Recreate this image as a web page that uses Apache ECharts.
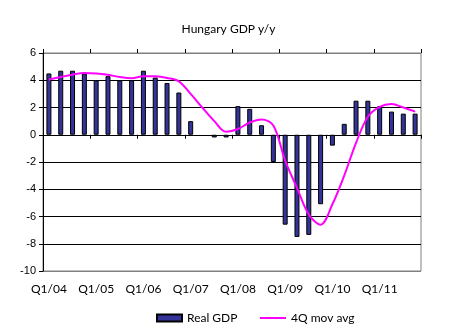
<!DOCTYPE html>
<html>
<head>
<meta charset="utf-8">
<script src="https://cdn.jsdelivr.net/npm/echarts@6/dist/echarts.min.js"></script>
<style>
  html, body { margin: 0; padding: 0; background: #ffffff; }
  #chart { width: 457px; height: 335px; }
</style>
</head>
<body>
<div id="chart"></div>
<script>
// Quarterly categories, 2004-2011
const quarters = [
  'Q1/04', 'Q2/04', 'Q3/04', 'Q4/04',
  'Q1/05', 'Q2/05', 'Q3/05', 'Q4/05',
  'Q1/06', 'Q2/06', 'Q3/06', 'Q4/06',
  'Q1/07', 'Q2/07', 'Q3/07', 'Q4/07',
  'Q1/08', 'Q2/08', 'Q3/08', 'Q4/08',
  'Q1/09', 'Q2/09', 'Q3/09', 'Q4/09',
  'Q1/10', 'Q2/10', 'Q3/10', 'Q4/10',
  'Q1/11', 'Q2/11', 'Q3/11', 'Q4/11'
];

// Real GDP, % y/y
const realGdp = [
  4.5, 4.7, 4.7, 4.5,
  4.0, 4.3, 4.0, 4.0,
  4.7, 4.2, 3.8, 3.1,
  1.0, 0.0, -0.2, -0.2,
  2.1, 1.9, 0.7, -2.0,
  -6.6, -7.5, -7.35, -5.1,
  -0.8, 0.8, 2.5, 2.5,
  2.1, 1.7, 1.55, 1.55
];

// Four-quarter moving average, % y/y
const movAvg4Q = [
  4.05, 4.24, 4.41, 4.53,
  4.5, 4.4, 4.24, 4.15,
  4.29, 4.29, 4.17, 3.92,
  3.0, 1.98, 1.0, 0.22,
  0.42, 0.9, 1.12, 0.68,
  -1.9, -3.9, -5.85, -6.6,
  -5.1, -3.0, -0.6, 1.32,
  2.05, 2.25, 2.0, 1.7
];

// Value axis range
const yMin = -10;
const yMax = 6;
const yStep = 2;

const chart = echarts.init(document.getElementById('chart'), null, { renderer: 'canvas' });

// Inner gridlines are black; the lines at the plot edges are grey
const tickCount = (yMax - yMin) / yStep + 1;
const gridColors = [];
for (let i = 0; i < tickCount; i++) {
  gridColors.push(i === 0 || i === tickCount - 1 ? '#808080' : '#000000');
}

// A zero-height bar gets no outline so it stays invisible
const barData = realGdp.map(v => (v === 0 ? { value: v, itemStyle: { borderWidth: 0 } } : v));

const labelFont = 'Lato, "Open Sans", sans-serif';
const legendText = { fontFamily: labelFont, fontSize: 12, color: '#000000' };

chart.setOption({
  animation: false,
  backgroundColor: '#ffffff',
  title: {
    text: 'Hungary GDP y/y',
    left: 'center',
    top: 18,
    textStyle: { fontFamily: labelFont, fontSize: 12, fontWeight: 'normal', color: '#000000' }
  },
  legend: [
    {
      left: 151,
      top: 307,
      itemWidth: 25,
      itemHeight: 7,
      textStyle: legendText,
      data: [{ name: 'Real GDP', icon: 'rect' }]
    },
    {
      left: 255,
      top: 307,
      itemWidth: 26,
      itemHeight: 2,
      textStyle: legendText,
      data: [{ name: '4Q mov avg', icon: 'rect' }]
    }
  ],
  grid: {
    left: 43,
    right: 36,
    top: 53,
    bottom: 64,
    show: true,
    borderColor: '#808080',
    borderWidth: 1,
    containLabel: false
  },
  xAxis: [
    {
      // label axis along the bottom edge
      type: 'category',
      data: quarters,
      position: 'bottom',
      axisLine: { show: false, onZero: false },
      axisTick: { show: false },
      axisLabel: {
        interval: 3,
        margin: 12,
        fontFamily: labelFont,
        fontSize: 12,
        color: '#000000'
      },
      splitLine: { show: false }
    },
    {
      // zero line with downward tick marks
      type: 'category',
      data: quarters,
      position: 'bottom',
      axisLine: { show: true, onZero: true, lineStyle: { color: '#000000', width: 1 } },
      axisTick: { show: true, interval: 3, length: 4, lineStyle: { color: '#000000' } },
      axisLabel: { show: false },
      splitLine: { show: false }
    },
    {
      // upward half of the crossing tick marks
      type: 'category',
      data: quarters,
      position: 'top',
      axisLine: { show: false, onZero: true },
      axisTick: { show: true, interval: 3, length: 4, lineStyle: { color: '#000000' } },
      axisLabel: { show: false },
      splitLine: { show: false }
    }
  ],
  yAxis: {
    type: 'value',
    min: yMin,
    max: yMax,
    interval: yStep,
    axisLine: { show: true, onZero: false, lineStyle: { color: '#000000', width: 1 } },
    axisTick: { show: true, length: 4, lineStyle: { color: '#000000' } },
    axisLabel: {
      margin: 7,
      fontFamily: '"Liberation Sans", Arial, sans-serif',
      fontSize: 11,
      color: '#000000'
    },
    splitLine: { show: true, lineStyle: { color: gridColors, width: 1 } }
  },
  series: [
    {
      name: 'Real GDP',
      type: 'bar',
      xAxisIndex: 0,
      data: barData,
      barWidth: 5,
      itemStyle: { color: '#333399', borderColor: '#000000', borderWidth: 1 }
    },
    {
      name: '4Q mov avg',
      type: 'line',
      xAxisIndex: 0,
      data: movAvg4Q,
      smooth: 0.35,
      symbol: 'none',
      lineStyle: { color: '#ff00ff', width: 2 },
      itemStyle: { color: '#ff00ff' },
      z: 3
    }
  ]
});
</script>
</body>
</html>
